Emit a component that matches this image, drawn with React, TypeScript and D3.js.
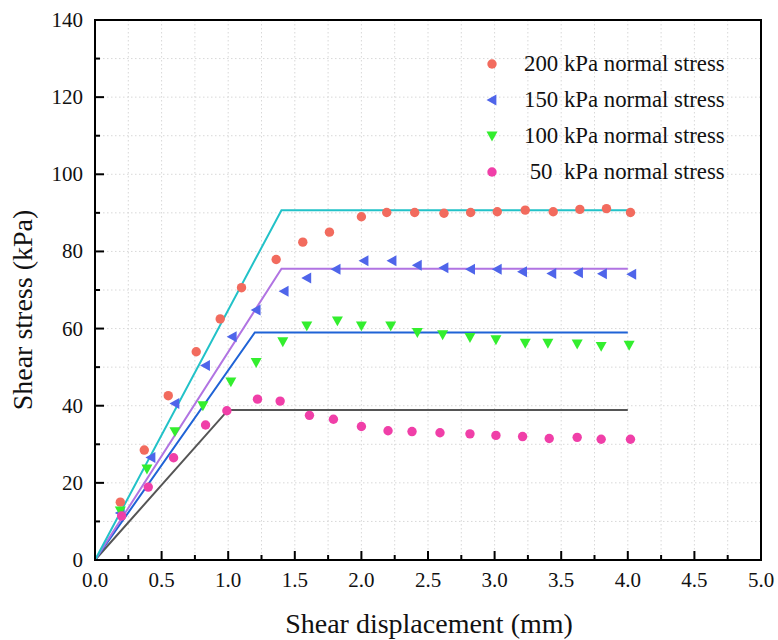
import React from "react";
import * as d3 from "d3";

const W = 778, H = 640;
const M = { left: 95, right: 761, top: 20, bottom: 560 };

const xTicks = [0, 0.5, 1, 1.5, 2, 2.5, 3, 3.5, 4, 4.5, 5];
const yTicks = [0, 20, 40, 60, 80, 100, 120, 140];

// measured points
const redX = [0.19, 0.37, 0.55, 0.76, 0.94, 1.1, 1.36, 1.56, 1.76, 2.0, 2.19, 2.4, 2.62, 2.82, 3.02, 3.23, 3.44, 3.64, 3.84, 4.02];
const redY = [15.0, 28.5, 42.6, 54.0, 62.5, 70.6, 77.9, 82.4, 85.0, 89.0, 90.1, 90.1, 89.9, 90.1, 90.3, 90.7, 90.3, 90.9, 91.1, 90.1];

const blueX = [0.19, 0.42, 0.6, 0.83, 1.03, 1.21, 1.42, 1.59, 1.81, 2.02, 2.23, 2.42, 2.62, 2.82, 3.02, 3.21, 3.43, 3.63, 3.81, 4.03];
const blueY = [12.2, 26.6, 40.6, 50.4, 57.9, 64.8, 69.7, 73.1, 75.4, 77.6, 77.6, 76.4, 75.8, 75.4, 75.4, 74.7, 74.3, 74.5, 74.2, 74.1];

const greenX = [0.19, 0.39, 0.6, 0.81, 1.02, 1.21, 1.41, 1.59, 1.82, 2.0, 2.22, 2.42, 2.61, 2.815, 3.01, 3.23, 3.4, 3.62, 3.8, 4.01];
const greenY = [12.7, 23.6, 33.3, 40.0, 46.2, 51.2, 56.6, 60.7, 62.0, 60.7, 60.7, 59.0, 58.4, 57.7, 57.1, 56.2, 56.2, 56.0, 55.4, 55.7];

const pinkX = [0.2, 0.4, 0.59, 0.83, 0.99, 1.22, 1.39, 1.61, 1.79, 2.0, 2.2, 2.38, 2.59, 2.815, 3.01, 3.21, 3.41, 3.62, 3.8, 4.02];
const pinkY = [11.4, 18.9, 26.5, 35.0, 38.7, 41.7, 41.2, 37.5, 36.5, 34.6, 33.5, 33.3, 33.0, 32.7, 32.3, 32.0, 31.5, 31.8, 31.3, 31.3];

// fitted bilinear lines
const cyanLineX = [0, 1.4, 4.0];
const cyanLineY = [0, 90.7, 90.7];
const purpleLineX = [0, 1.4, 4.0];
const purpleLineY = [0, 75.5, 75.5];
const blueLineX = [0, 1.2, 4.0];
const blueLineY = [0, 59.0, 59.0];
const greyLineX = [0, 1.0, 4.0];
const greyLineY = [0, 38.9, 38.9];

const legendLabels = ["200 kPa normal stress", "150 kPa normal stress", "100 kPa normal stress", " 50  kPa normal stress"];

const FONT = "'Liberation Serif', 'Times New Roman', 'DejaVu Serif', serif";
const tf: React.CSSProperties = { fontFamily: FONT, whiteSpace: "pre" };

function marker(kind: string, cx: number, cy: number, color: string, key: any) {
  if (kind === "circle") return <circle key={key} cx={cx} cy={cy} r={4.7} fill={color} />;
  if (kind === "left") {
    const s = 5.5;
    return <path key={key} d={`M${cx - s},${cy} L${cx + s * 0.8},${cy - s} L${cx + s * 0.8},${cy + s} Z`} fill={color} />;
  }
  const s = 5.5;
  return <path key={key} d={`M${cx - s},${cy - s * 0.8} L${cx + s},${cy - s * 0.8} L${cx},${cy + s} Z`} fill={color} />;
}

export default function App() {
  const x = d3.scaleLinear().domain([0, 5]).range([M.left, M.right]);
  const y = d3.scaleLinear().domain([0, 140]).range([M.bottom, M.top]);
  const line = d3.line<[number, number]>().x(d => x(d[0])).y(d => y(d[1]));

  const series = [
    { xs: redX, ys: redY, color: "#f26b5e", kind: "circle" },
    { xs: blueX, ys: blueY, color: "#4f65ea", kind: "left" },
    { xs: greenX, ys: greenY, color: "#33ee2e", kind: "down" },
    { xs: pinkX, ys: pinkY, color: "#f03fa8", kind: "circle" },
  ];
  const lines = [
    { xs: greyLineX, ys: greyLineY, color: "#555555" },
    { xs: blueLineX, ys: blueLineY, color: "#1f63d6" },
    { xs: purpleLineX, ys: purpleLineY, color: "#b174e2" },
    { xs: cyanLineX, ys: cyanLineY, color: "#22c2c8" },
  ];

  const xGrid = d3.range(0, 21).map(i => i * 0.25);
  const yGrid = d3.range(0, 15).map(i => i * 10);

  return (
    <svg width={W} height={H} style={{ position: "absolute", left: 0, top: 0, background: "#fff", fontFamily: FONT }}>
      <rect x={0} y={0} width={W} height={H} fill="#fff" />
      {xGrid.slice(1, -1).map((v, i) => (
        <line key={"gx" + i} x1={x(v)} x2={x(v)} y1={M.top} y2={M.bottom} stroke="#d8d8d8" strokeWidth={1} strokeDasharray="1.5,2.5" />
      ))}
      {yGrid.slice(1, -1).map((v, i) => (
        <line key={"gy" + i} x1={M.left} x2={M.right} y1={y(v)} y2={y(v)} stroke="#d8d8d8" strokeWidth={1} strokeDasharray="1.5,2.5" />
      ))}
      {lines.map((l, i) => (
        <path key={"l" + i} d={line(l.xs.map((v, j) => [v, l.ys[j]]) as [number, number][]) || ""} fill="none" stroke={l.color} strokeWidth={2} />
      ))}
      {series.map((s, i) => (
        <g key={"s" + i}>{s.xs.map((v, j) => marker(s.kind, x(v), y(s.ys[j]), s.color, j))}</g>
      ))}
      <rect x={M.left} y={M.top} width={M.right - M.left} height={M.bottom - M.top} fill="none" stroke="#000" strokeWidth={2} />
      {xGrid.map((v, i) => (
        <line key={"tx" + i} x1={x(v)} x2={x(v)} y1={M.bottom} y2={M.bottom - (i % 2 === 0 ? 9 : 5)} stroke="#000" strokeWidth={2} />
      ))}
      {yGrid.map((v, i) => (
        <line key={"ty" + i} x1={M.left} x2={M.left + (i % 2 === 0 ? 9 : 5)} y1={y(v)} y2={y(v)} stroke="#000" strokeWidth={2} />
      ))}
      {xTicks.map((v, i) => (
        <text key={"xl" + i} x={x(v)} y={587} textAnchor="middle" fontSize={21} fill="#111" style={tf}>{v.toFixed(1)}</text>
      ))}
      {yTicks.map((v, i) => (
        <text key={"yl" + i} x={M.left - 12} y={y(v) + 7} textAnchor="end" fontSize={21} fill="#111" style={tf}>{v}</text>
      ))}
      <text x={429} y={633} textAnchor="middle" fontSize={28} fill="#111" style={tf}>Shear displacement (mm)</text>
      <text transform={`translate(32,310) rotate(-90)`} textAnchor="middle" fontSize={28} fill="#111" style={tf}>Shear stress (kPa)</text>
      {legendLabels.map((t, i) => (
        <g key={"lg" + i}>
          {marker(series[i].kind, 492, 64 + i * 36, series[i].color, "m")}
          <text x={524} y={64 + i * 36 + 7} fontSize={22.8} fill="#111" style={tf}>{t}</text>
        </g>
      ))}
    </svg>
  );
}
